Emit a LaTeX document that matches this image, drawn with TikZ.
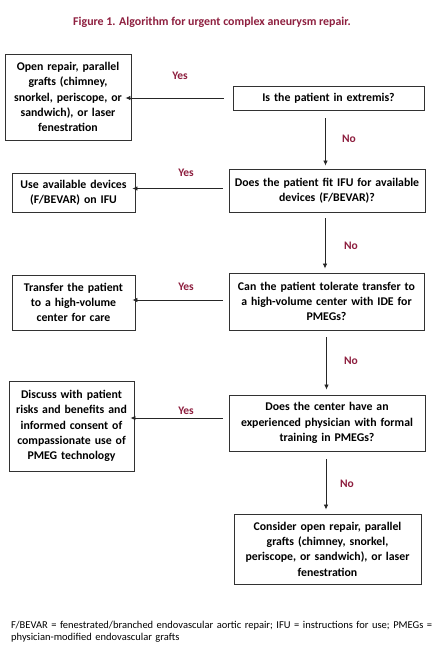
\documentclass[tikz,border=0pt]{standalone}
\usepackage{fontspec}
\setmainfont{Carlito}
\usetikzlibrary{arrows.meta}
\definecolor{wine}{RGB}{142,31,63}
\definecolor{boxline}{RGB}{50,50,50}
\tikzset{
  box/.style={draw=boxline, line width=0.9pt, align=center, inner sep=1pt,
    font=\fontsize{11.8}{15.3}\selectfont\bfseries},
  arr/.style={draw=black!85, line width=0.8pt, -{Latex[length=5pt,width=4.5pt]}},
  lab/.style={text=wine, font=\fontsize{11.5}{13}\selectfont\bfseries, inner sep=0pt},
}
\begin{document}
\begin{tikzpicture}[x=1pt,y=-1pt]
\useasboundingbox[fill=white] (0,0) rectangle (433,650);
\node[lab, font=\fontsize{11.9}{13}\selectfont\bfseries] (title) at (212,22) {Figure 1. Algorithm for urgent complex aneurysm repair.};

\node[box, minimum width=126pt, minimum height=86pt, text width=124pt] (L1) at (68,97)
  {Open repair, parallel\\grafts (chimney,\\snorkel, periscope, or\\sandwich), or laser\\fenestration};
\node[box, minimum width=191pt, minimum height=24pt, text width=189pt] (R1) at (328.5,98)
  {Is the patient in extremis?};

\node[box, minimum width=123pt, minimum height=39pt, text width=121pt] (L2) at (73.5,192.5)
  {Use available devices\\(F/BEVAR) on IFU};
\node[box, minimum width=196pt, minimum height=43pt, text width=194pt] (R2) at (327,190.5)
  {Does the patient fit IFU for available\\devices (F/BEVAR)?};

\node[box, minimum width=123pt, minimum height=55pt, text width=121pt] (L3) at (73.5,302.5)
  {Transfer the patient\\to a high-volume\\center for care};
\node[box, minimum width=195pt, minimum height=57pt, text width=193pt] (R3) at (326.5,301.5)
  {Can the patient tolerate transfer to\\a high-volume center with IDE for\\PMEGs?};

\node[box, minimum width=125pt, minimum height=90pt, text width=123pt] (L4) at (71.5,426)
  {Discuss with patient\\risks and benefits and\\informed consent of\\compassionate use of\\PMEG technology};
\node[box, minimum width=196pt, minimum height=56pt, text width=194pt] (R4) at (327,423)
  {Does the center have an\\experienced physician with formal\\training in PMEGs?};

\node[box, minimum width=187pt, minimum height=70pt, text width=185pt] (R5) at (327.5,549)
  {Consider open repair, parallel\\grafts (chimney, snorkel,\\periscope, or sandwich), or laser\\fenestration};

% horizontal Yes arrows
\draw[arr, shorten >=3pt] ([xshift=-9pt]R1.west) -- ([xshift=-9pt]R1.west -| L1.east);
\draw[arr, shorten >=3pt] ([shift={(-6pt,2pt)}]R2.west) -- ([shift={(-6pt,2pt)}]R2.west -| L2.east);
\draw[arr, shorten >=3pt] ([shift={(-6pt,1.5pt)}]R3.west) -- ([shift={(-6pt,1.5pt)}]R3.west -| L3.east);
\draw[arr, shorten >=2pt] ([shift={(-6pt,5pt)}]R4.west) -- ([shift={(-6pt,5pt)}]R4.west -| L4.east);

% vertical No arrows
\draw[arr, shorten <=8pt, shorten >=3pt] ([xshift=-3pt]R1.south) -- ([xshift=-3pt]R1.south |- R2.north);
\draw[arr, shorten <=6pt, shorten >=4pt] ([xshift=-2pt]R2.south) -- ([xshift=-2pt]R2.south |- R3.north);
\draw[arr, shorten <=7pt, shorten >=5pt] (R3.south) -- (R3.south |- R4.north);
\draw[arr, shorten <=8pt, shorten >=4pt] ([xshift=-1pt]R4.south) -- ([xshift=-1pt]R4.south |- R5.north);

% labels
\node[lab] (y1) at (180,76) {Yes};
\node[lab] (y2) at (186,173) {Yes};
\node[lab] (y3) at (186,287) {Yes};
\node[lab] (y4) at (186,411) {Yes};
\node[lab] (n1) at (349,139) {No};
\node[lab] (n2) at (351,246) {No};
\node[lab] (n3) at (351,361) {No};
\node[lab] (n4) at (347,484) {No};

\node[anchor=north west, align=left, inner sep=0pt, text width=430pt,
  font=\fontsize{10.5}{12}\selectfont] (foot) at (11,621)
  {F/BEVAR = fenestrated/branched endovascular aortic repair; IFU = instructions for use; PMEGs =\\physician-modified endovascular grafts};
\end{tikzpicture}
\end{document}
